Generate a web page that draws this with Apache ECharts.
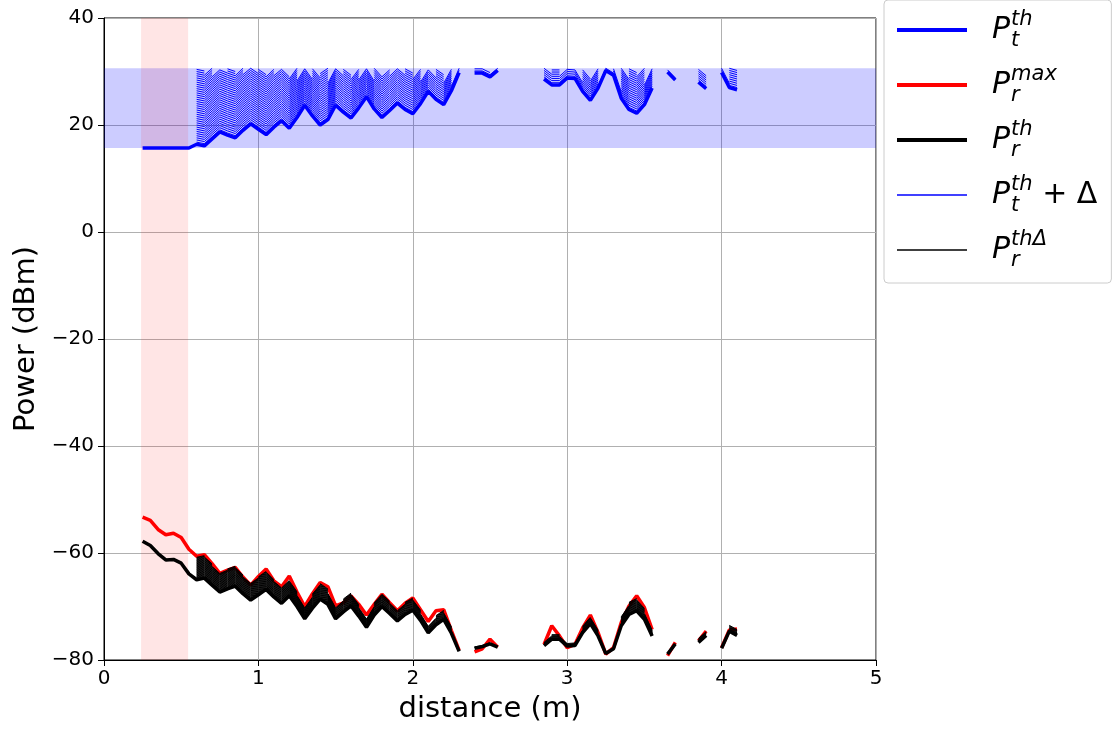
<!DOCTYPE html>
<html>
<head>
<meta charset="utf-8">
<script src="https://cdn.jsdelivr.net/npm/echarts@6/dist/echarts.min.js"></script>
<style>
html,body{margin:0;padding:0;background:#fff;}
#chart{width:1114px;height:731px;}
</style>
</head>
<body>
<div id="chart"></div>
<script>
// ---- data ----
const distances = [0.25,0.30,0.35,0.40,0.45,0.50,0.55,0.60,0.65,0.70,0.75,0.80,0.85,0.90,0.95,1.00,1.05,1.10,1.15,1.20,1.25,1.30,1.35,1.40,1.45,1.50,1.55,1.60,1.65,1.70,1.75,1.80,1.85,1.90,1.95,2.00,2.05,2.10,2.15,2.20,2.25,2.30,2.35,2.40,2.45,2.50,2.55,2.60,2.65,2.70,2.75,2.80,2.85,2.90,2.95,3.00,3.05,3.10,3.15,3.20,3.25,3.30,3.35,3.40,3.45,3.50,3.55,3.60,3.65,3.70,3.75,3.80,3.85,3.90,3.95,4.00,4.05,4.10];

const ptTh = [15.7,15.7,15.7,15.7,15.7,15.7,15.7,16.4,16.1,17.4,18.7,18.1,17.6,19.0,20.2,19.2,18.2,19.6,20.8,19.4,21.4,23.7,21.7,20.0,21.0,23.7,22.4,21.3,23.2,25.3,23.0,21.4,22.7,24.1,22.9,22.1,24.0,26.3,24.8,23.8,26.4,29.8,
  null,29.7,29.7,29.0,30.2,null,null,null,null,null,
  28.6,27.5,27.5,28.8,28.7,26.3,24.6,26.9,30.2,29.3,25.0,22.9,22.2,23.8,26.9,
  null,29.9,28.4,null,null,28.0,26.8,null,29.8,27.0,26.6];

const prTh = [-57.8,-58.6,-60.1,-61.3,-61.2,-61.9,-63.9,-65.0,-64.7,-66.0,-67.3,-66.7,-66.2,-67.6,-68.8,-67.8,-66.8,-68.2,-69.4,-68.0,-70.0,-72.3,-70.3,-68.6,-69.6,-72.3,-71.0,-69.9,-71.8,-73.9,-71.6,-70.0,-71.3,-72.7,-71.5,-70.7,-72.6,-74.9,-73.4,-72.4,-75.0,-78.4,
  null,-77.8,-77.5,-77.0,-77.6,null,null,null,null,null,
  -77.3,-76.1,-76.1,-77.4,-77.3,-74.9,-73.2,-75.5,-78.8,-77.9,-73.6,-71.5,-70.8,-72.4,-75.5,
  null,-78.9,-77.0,null,null,-76.7,-75.4,null,-77.8,-74.6,-75.4];

const prMax = [-53.3,-53.9,-55.6,-56.6,-56.3,-57.1,-59.3,-60.6,-60.3,-62.0,-63.8,-63.2,-62.7,-64.5,-66.0,-64.4,-63.0,-65.2,-66.3,-64.3,-67.3,-70.0,-67.6,-65.5,-66.3,-69.9,-69.3,-68.0,-69.6,-71.6,-69.6,-67.7,-69.3,-70.8,-69.4,-68.4,-70.6,-72.8,-70.8,-70.6,-74.5,-78.2,
  null,-78.5,-77.9,-76.1,-77.6,null,null,null,null,null,
  -77.1,-73.6,-75.5,-77.7,-77.1,-74.0,-71.6,-74.9,-78.9,-77.7,-73.0,-69.9,-68.0,-70.2,-74.3,
  null,-79.2,-76.7,null,null,-76.4,-74.6,null,-77.7,-74.4,-74.2];

// power margins Δ (dB) and the corresponding received-power offsets (dB)
const deltas = [0.4,0.8,1.2,1.6,2.0,2.4,2.8,3.2,3.6,4.0,4.4,4.8,5.2,5.6,6.0,6.4,6.8,7.2,7.6,8.0,8.4,8.8,9.2,9.6,10.0,10.4,10.8,11.2,11.6,12.0,12.4,12.8,13.2,13.6,14.0,14.4,14.8];
const rxOffsets = [0.12,0.24,0.36,0.48,0.60,0.72,0.84,0.96,1.08,1.20,1.32,1.44,1.56,1.68,1.80,1.92,2.04,2.16,2.28,2.40,2.52,2.64,2.76,2.88,3.00,3.12,3.24,3.36,3.48,3.60,3.72,3.84,3.96,4.08,4.20,4.32,4.44];

const ptMin = 15.7;          // lower edge of allowed transmit power band
const ptMax = 30.6;          // upper edge of allowed transmit power band
const nearField = [0.24, 0.545];

const xTicks = [0,1,2,3,4,5];
const yTicks = [-80,-60,-40,-20,0,20,40];

// ---- chart ----
const FONT = 'DejaVu Sans';
const NAMES = {
  pt: 'Pt_th', prmax: 'Pr_max', pr: 'Pr_th', ptd: 'Pt_th_delta', prd: 'Pr_th_delta'
};
const legendParts = {
  'Pt_th': ['t','th',''],
  'Pr_max': ['r','max',''],
  'Pr_th': ['r','th',''],
  'Pt_th_delta': ['t','th',' + Δ'],
  'Pr_th_delta': ['r','thΔ','']
};

function pairs(arr){ return distances.map((d,i)=>[d, arr[i]==null ? null : arr[i]]); }

const series = [];
series.push({
  name: 'bands', type: 'line', data: [], z: 1, silent: true,
  markArea: {
    silent: true,
    data: [
      [{xAxis: xTicks[0], yAxis: ptMin, itemStyle:{color:'rgba(0,0,255,0.2)'}}, {xAxis: xTicks[xTicks.length-1], yAxis: ptMax}],
      [{xAxis: nearField[0], yAxis: yTicks[0], itemStyle:{color:'rgba(255,0,0,0.1)'}}, {xAxis: nearField[1], yAxis: yTicks[yTicks.length-1]}]
    ]
  }
});
const thick = 3.5;
series.push({name: NAMES.pt, type:'line', data: pairs(ptTh), symbol:'none', z:2,
  lineStyle:{color:'#0000ff', width: thick}, itemStyle:{color:'#0000ff'}});
series.push({name: NAMES.prmax, type:'line', data: pairs(prMax), symbol:'none', z:2,
  lineStyle:{color:'#ff0000', width: thick}, itemStyle:{color:'#ff0000'}});
series.push({name: NAMES.pr, type:'line', data: pairs(prTh), symbol:'none', z:2,
  lineStyle:{color:'#000000', width: thick}, itemStyle:{color:'#000000'}});

deltas.forEach((dl, k) => {
  const blue = distances.map((d,i)=>{
    const p = ptTh[i];
    if (p == null || p <= ptMin || p + dl > ptMax) return [d, null];
    return [d, p + dl];
  });
  const black = distances.map((d,i)=>{
    const p = ptTh[i];
    if (p == null || p <= ptMin || p + dl > ptMax || prTh[i] == null) return [d, null];
    return [d, prTh[i] + rxOffsets[k]];
  });
  series.push({name: NAMES.ptd, type:'line', data: blue, symbol:'none', z:2,
    lineStyle:{color:'#0000ff', width:1}, itemStyle:{color:'#0000ff'}});
  series.push({name: NAMES.prd, type:'line', data: black, symbol:'none', z:2,
    lineStyle:{color:'#000000', width:1}, itemStyle:{color:'#000000'}});
});

function fmtTick(v){ return v < 0 ? '\u2212' + Math.abs(v) : String(v); }

const chart = echarts.init(document.getElementById('chart'), null, {renderer:'canvas'});
chart.setOption({
  animation: false,
  backgroundColor: '#ffffff',
  textStyle: {fontFamily: FONT},
  grid: {left:104, top:18, width:772, height:642, show:true, borderColor:'#000', borderWidth:1, backgroundColor:'transparent'},
  xAxis: {
    type:'value', min: xTicks[0], max: xTicks[xTicks.length-1], interval: 1,
    name: 'distance (m)', nameLocation:'middle', nameGap: 35,
    nameTextStyle:{fontFamily:FONT, fontSize:29, color:'#000'},
    axisLine:{show:true, onZero:false, lineStyle:{color:'#000', width:1}},
    axisTick:{show:true, inside:false, length:6, lineStyle:{color:'#000', width:1}},
    axisLabel:{fontFamily:FONT, fontSize:20, color:'#000', margin:9, formatter: fmtTick},
    splitLine:{show:true, lineStyle:{color:'#b0b0b0', width:1}}
  },
  yAxis: {
    type:'value', min: yTicks[0], max: yTicks[yTicks.length-1], interval: 20,
    name: 'Power (dBm)', nameLocation:'middle', nameGap: 62,
    nameTextStyle:{fontFamily:FONT, fontSize:29, color:'#000'},
    axisLine:{show:true, onZero:false, lineStyle:{color:'#000', width:1}},
    axisTick:{show:true, inside:false, length:6, lineStyle:{color:'#000', width:1}},
    axisLabel:{fontFamily:FONT, fontSize:20, color:'#000', margin:10, formatter: fmtTick},
    splitLine:{show:true, lineStyle:{color:'#b0b0b0', width:1}}
  },
  legend: {
    orient:'vertical', left:884, top:0,
    data:[
      {name: NAMES.pt, lineStyle:{width:4}},
      {name: NAMES.prmax, lineStyle:{width:4}},
      {name: NAMES.pr, lineStyle:{width:4}},
      {name: NAMES.ptd, lineStyle:{width:1.3}},
      {name: NAMES.prd, lineStyle:{width:1.3}}
    ],
    itemWidth:70, itemHeight:14, itemGap:13,
    padding:[9,14,12,11],
    itemStyle:{opacity:0},
    borderColor:'#cccccc', borderWidth:1, borderRadius:4, backgroundColor:'#ffffff',
    selectedMode:false,
    formatter: function(name){
      const p = legendParts[name];
      let s = '{P|P}{sub|' + p[0] + '}{sup|' + p[1] + '}';
      if (p[2]) s += '{rest|' + p[2] + '}';
      return s;
    },
    textStyle:{
      fontFamily:FONT, color:'#000',
      rich:{
        P:{fontFamily:FONT, fontStyle:'italic', fontSize:30, lineHeight:42, verticalAlign:'middle', padding:[0,1,0,20], color:'#000'},
        sub:{fontFamily:FONT, fontStyle:'italic', fontSize:21, lineHeight:22, verticalAlign:'bottom', width:0, color:'#000'},
        sup:{fontFamily:FONT, fontStyle:'italic', fontSize:21, lineHeight:22, verticalAlign:'top', color:'#000'},
        rest:{fontFamily:FONT, fontSize:30, lineHeight:42, verticalAlign:'middle', color:'#000'}
      }
    }
  },
  series: series
});
</script>
</body>
</html>
